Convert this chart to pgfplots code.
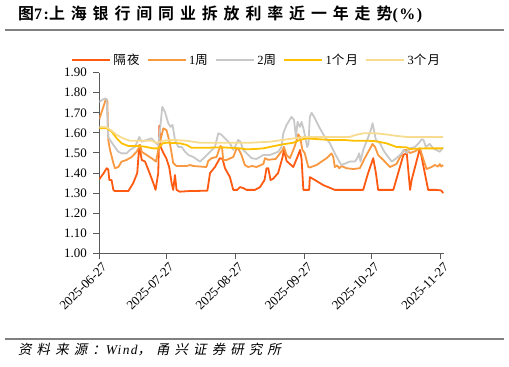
\documentclass[border=0pt]{standalone}
\usepackage{pgfplots}
\pgfplotsset{compat=1.18}
\usepackage{fontspec}
\setmainfont{Liberation Serif}
\newfontfamily\cjktitle[LetterSpace=37,BoldFont={Noto Sans CJK SC Bold}]{Noto Sans CJK SC}
\newfontfamily\rmtitle[LetterSpace=10]{Liberation Serif}
\newfontfamily\cjksrc[LetterSpace=38,FakeSlant=0.2]{Noto Sans CJK SC}
\newfontfamily\rmsrc[LetterSpace=10]{Liberation Serif}
\newfontfamily\cjkleg[LetterSpace=10]{Noto Sans CJK SC}
\definecolor{cON}{HTML}{FF5A12}
\definecolor{cW1}{HTML}{F89840}
\definecolor{cW2}{HTML}{C8C8C8}
\definecolor{cM1}{HTML}{FFC000}
\definecolor{cM3}{HTML}{F7DC8F}
\definecolor{axisgray}{HTML}{595959}
\definecolor{rulegray}{HTML}{808080}

\pgfplotstableread{
d v
0 1.369
2 1.40
3.3 1.424
4 1.418
4.5 1.365
5.5 1.365
6.3 1.316
7 1.31
13 1.31
15.2 1.35
17 1.40
17.9 1.54
19 1.465
20.5 1.457
22 1.415
24.2 1.35
25.2 1.316
26.4 1.40
26.9 1.636
27.5 1.53
28.7 1.50
30 1.474
31.3 1.43
32.4 1.35
33.1 1.316
33.9 1.39
34.6 1.316
36 1.307
40 1.31
48.4 1.312
49.6 1.40
51.8 1.43
54 1.474
55.2 1.47
56.3 1.424
58.5 1.38
60 1.316
61.8 1.316
63 1.33
64.5 1.325
66 1.316
69.7 1.316
72 1.33
74 1.365
74.9 1.424
75.7 1.424
76.7 1.365
77.9 1.372
80.1 1.40
82.1 1.48
82.7 1.515
83.9 1.46
86.9 1.43
89.1 1.49
89.9 1.515
90.6 1.47
91.4 1.316
94 1.316
94.3 1.38
96.6 1.365
100.3 1.34
105.5 1.316
118.2 1.316
120.4 1.40
122.7 1.474
123.9 1.40
124.9 1.316
131.7 1.316
136.2 1.49
137.7 1.50
139.2 1.316
139.9 1.365
143.6 1.523
147.3 1.316
151 1.316
153.2 1.313
154 1.30
}\overnight

\pgfplotstableread{
d v
0 1.668
3 1.77
3.6 1.76
4 1.565
4.8 1.515
6.3 1.45
7 1.424
8.5 1.43
10 1.457
12.2 1.465
14.5 1.48
16.7 1.506
17.9 1.53
18.3 1.54
19 1.506
21.2 1.49
23.4 1.474
25.4 1.457
26.4 1.515
27.2 1.556
28.7 1.623
30.1 1.614
30.9 1.58
31.6 1.548
32.4 1.498
33.1 1.45
34.6 1.435
39.1 1.435
40.6 1.44
42 1.435
48 1.43
48.8 1.46
50.3 1.474
52.5 1.48
53.6 1.515
54.3 1.535
55 1.525
55.5 1.465
57 1.465
60 1.48
61.5 1.523
62.2 1.523
63.7 1.49
65.2 1.44
66.7 1.43
68.5 1.435
70.4 1.43
73.5 1.445
74.2 1.474
75.7 1.466
79 1.47
82.1 1.515
82.7 1.53
83.9 1.49
85.4 1.474
87.6 1.535
88.4 1.565
89.1 1.593
89.9 1.58
91 1.515
92 1.50
93.6 1.43
94.3 1.428
97.3 1.44
101.8 1.474
104 1.498
104.8 1.48
105.5 1.43
106.5 1.438
107.5 1.424
108.5 1.435
110.7 1.424
113.8 1.42
116.7 1.424
118.9 1.474
122.4 1.545
123.5 1.53
124.9 1.49
127.2 1.465
130.2 1.43
133.1 1.445
136.4 1.515
137.6 1.515
139.2 1.50
141.4 1.508
143.6 1.523
145 1.474
146.6 1.42
148.8 1.43
150.3 1.44
151.8 1.432
152.5 1.445
153.2 1.432
154 1.44
}\weekone

\pgfplotstableread{
d v
0 1.755
2.5 1.772
3.3 1.767
4 1.58
4.8 1.565
6.3 1.54
8.5 1.506
10 1.498
12.2 1.498
13.7 1.515
16 1.53
17.9 1.58
19 1.556
21.2 1.565
23.4 1.573
25.4 1.548
26.4 1.54
27.2 1.614
28.2 1.73
29.4 1.705
30.9 1.648
31.9 1.63
32.8 1.64
33.9 1.565
35.4 1.53
36.9 1.53
38.4 1.506
39.9 1.49
42.1 1.48
45.1 1.457
47.3 1.48
49.6 1.506
51.8 1.53
53.3 1.598
54.8 1.59
57 1.565
58.5 1.548
60 1.515
61.5 1.548
62.2 1.565
63.2 1.556
64.5 1.515
66 1.498
68.2 1.474
70.4 1.47
73.5 1.49
76.4 1.49
80.1 1.506
81.6 1.53
82.4 1.598
83.9 1.64
86.1 1.68
87.2 1.665
88.1 1.58
88.8 1.655
89.9 1.63
90.6 1.655
91.6 1.614
92.5 1.565
93.1 1.53
93.7 1.545
94.3 1.68
95.1 1.70
96.6 1.672
98.8 1.623
101 1.58
103.3 1.548
105.5 1.498
107.5 1.457
108.5 1.44
110.7 1.45
112.2 1.457
114.5 1.457
115.5 1.474
116.4 1.498
117 1.457
118.2 1.515
120 1.565
121.6 1.614
122.4 1.648
123 1.614
123.9 1.565
125.7 1.548
127.2 1.515
128.7 1.49
131 1.457
133.1 1.474
135.4 1.498
136.4 1.515
137.6 1.50
139.2 1.523
141.4 1.53
143 1.548
144.4 1.568
145.2 1.565
146.3 1.53
148 1.545
149.5 1.523
151 1.515
152.5 1.506
154 1.528
}\weektwo

\pgfplotstableread{
d v
0 1.623
3.3 1.623
5.5 1.607
7.8 1.573
10 1.548
13 1.535
16.7 1.535
20 1.532
24.2 1.523
26.4 1.523
28.4 1.548
30.1 1.551
36.1 1.548
39.1 1.54
41.3 1.526
48 1.526
55 1.528
63 1.523
66 1.518
70 1.52
73.5 1.523
76.4 1.53
82.1 1.543
86.9 1.551
89.9 1.565
92.9 1.573
96 1.57
103.3 1.565
109.3 1.565
113.8 1.561
118.2 1.561
122.7 1.56
124 1.558
128.7 1.548
133.1 1.53
137.6 1.528
139.2 1.52
146 1.523
154 1.523
}\monthone

\pgfplotstableread{
d v
0 1.631
3.3 1.628
5.5 1.611
7.8 1.59
10.7 1.573
13.7 1.561
18 1.561
23.4 1.561
25.7 1.55
27.2 1.556
28.7 1.561
33.1 1.565
39 1.561
45 1.551
60 1.551
67.5 1.551
76.4 1.556
82.1 1.565
89.9 1.577
92.2 1.58
112 1.58
115 1.59
118.2 1.598
124 1.598
130.2 1.59
133.1 1.585
137.6 1.58
154 1.58
}\monththree

\begin{document}
\begin{tikzpicture}[x=1bp,y=1bp]
\useasboundingbox (0,0) rectangle (509,366);
\node[anchor=base west, inner sep=0] at (18,347)
  {\fontsize{16}{16}\selectfont\cjktitle\bfseries 图{\rmtitle\bfseries 7:}上海银行间同业拆放利率近一年走势{\rmtitle\bfseries (\%)}};
\draw[rulegray, line width=1.5bp] (5,336) -- (504,336);
\draw[rulegray, line width=1.5bp] (5,27) -- (504,27);
\node[anchor=base west, inner sep=0] at (18,12)
  {\fontsize{13.5}{13.5}\selectfont\cjksrc 资料来源：{\rmsrc\itshape Wind}，甬兴证券研究所};
\begin{axis}[
  at={(99.3bp,112.7bp)}, anchor=south west,
  scale only axis, width=344.7bp, height=180.6bp,
  xmin=0, xmax=154.4, ymin=1, ymax=1.9,
  axis x line=bottom, axis y line=left,
  axis line style={draw=axisgray, line width=1.2bp, -},
  tick align=outside, major tick length=6bp,
  tick style={draw=axisgray, line width=1bp},
  xtick={0,30,61,92,122,153},
  xticklabels={2025-06-27,2025-07-27,2025-08-27,2025-09-27,2025-10-27,2025-11-27},
  ytick={1,1.1,1.2,1.3,1.4,1.5,1.6,1.7,1.8,1.9},
  /pgf/number format/assume math mode=true,
  yticklabel style={/pgf/number format/fixed, /pgf/number format/precision=2, /pgf/number format/fixed zerofill, xshift=-3bp},
  ticklabel style={font=\fontsize{13}{13}\selectfont, text=black},
  xticklabel style={rotate=45, anchor=north east, xshift=3bp, yshift=0bp},
  legend style={at={(0.456,1.07)}, anchor=center, draw=none, fill=none,
    font=\fontsize{12.5}{12.5}\selectfont, inner sep=0pt,
    /tikz/every even column/.append style={column sep=5bp}},
  legend columns=5,
  legend image code/.code={\draw[#1, line width=2.6bp] (0bp,0bp) -- (38bp,0bp);},
  every axis plot/.append style={line width=1.8bp, line join=round},
]
\addplot[cON, no marks] table[x=d,y=v] {\overnight};
\addlegendentry{{\cjkleg 隔夜}}
\addplot[cW1, no marks] table[x=d,y=v] {\weekone};
\addlegendentry{1{\cjkleg 周}}
\addplot[cW2, no marks] table[x=d,y=v] {\weektwo};
\addlegendentry{2{\cjkleg 周}}
\addplot[cM1, no marks] table[x=d,y=v] {\monthone};
\addlegendentry{1{\cjkleg 个月}}
\addplot[cM3, no marks] table[x=d,y=v] {\monththree};
\addlegendentry{3{\cjkleg 个月}}
\end{axis}
\end{tikzpicture}
\end{document}
